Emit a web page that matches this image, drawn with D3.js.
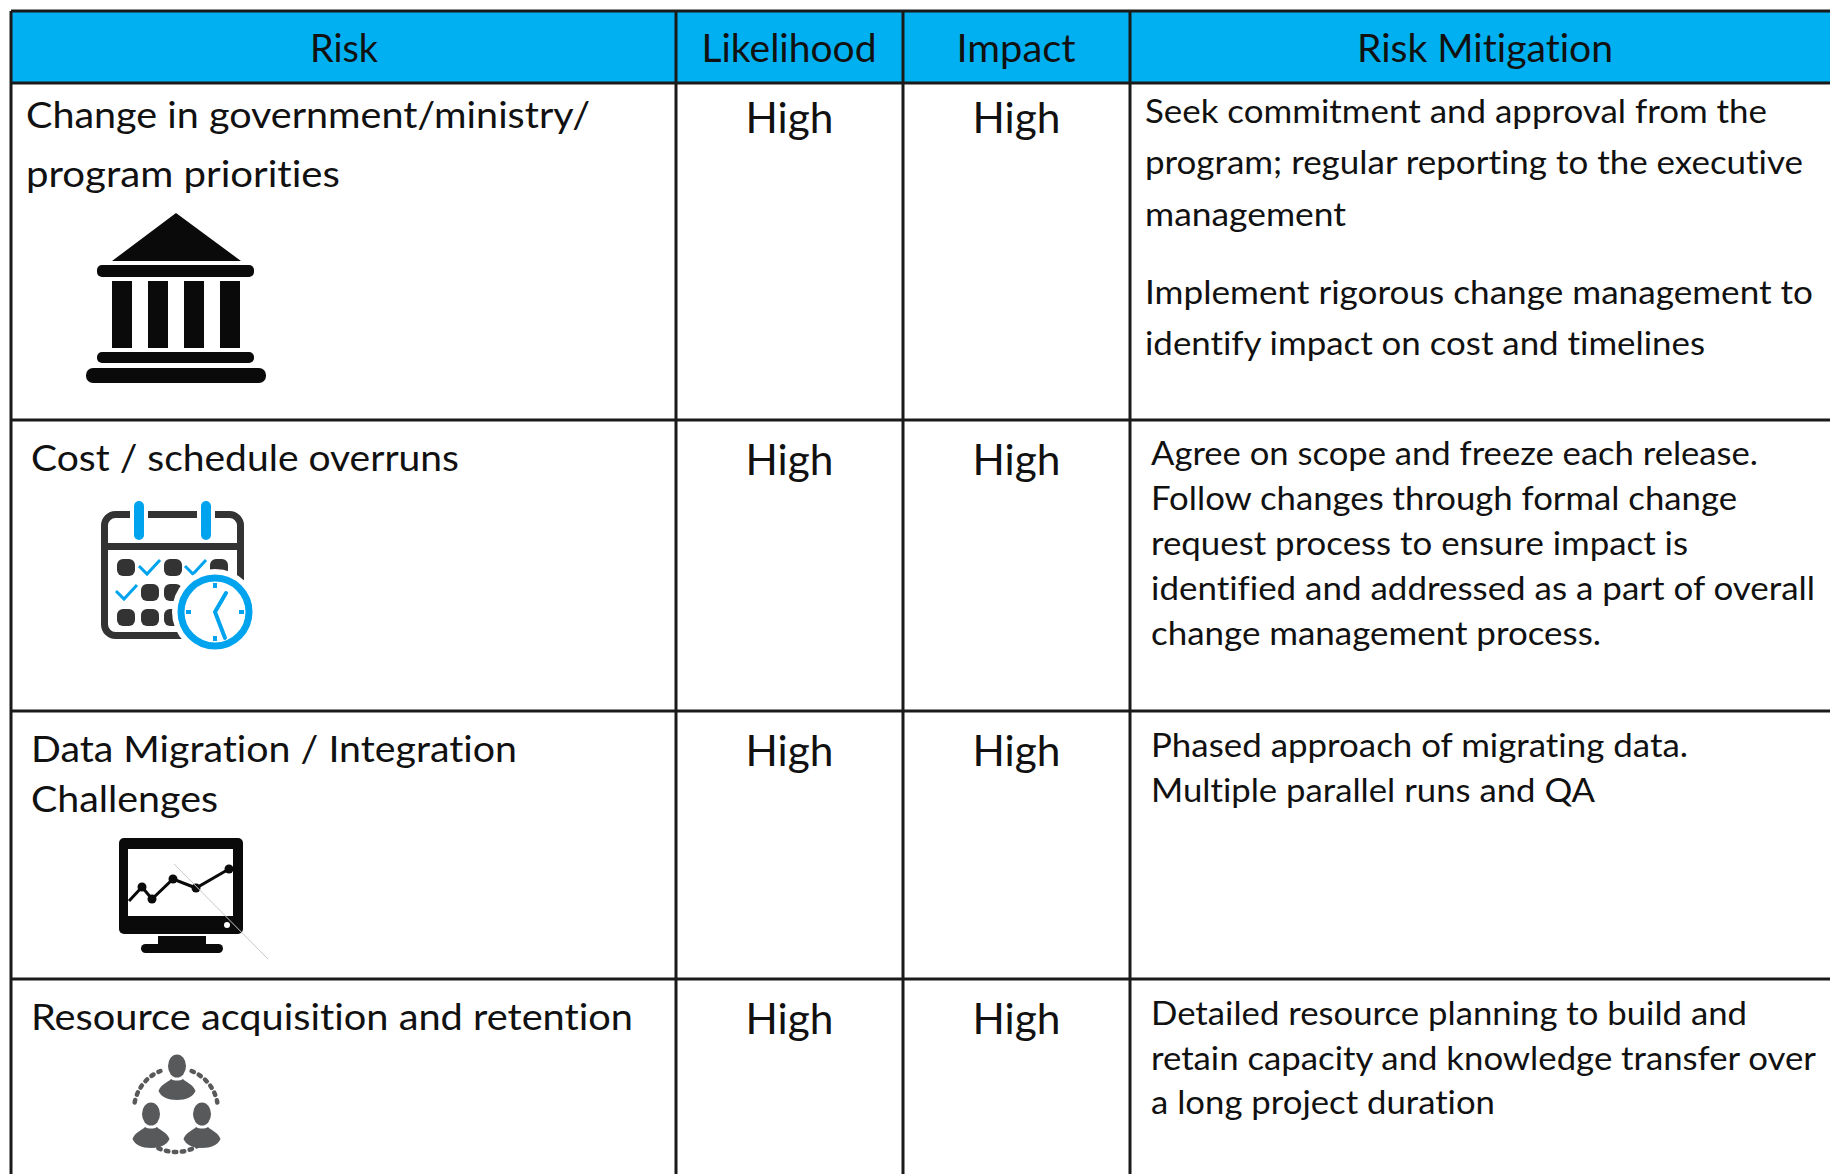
<!DOCTYPE html>
<html lang="en">
    <head>
        <meta charset="utf-8">
        <title>Risk table</title>
        <script src="https://d3js.org/d3.v7.min.js"></script>
        <style type="text/css">
           html, body { margin:0; padding:0; overflow:hidden; background:#fff }
           svg { display:block }
           text { font-family:Lato, "Open Sans", sans-serif; fill:#111; font-variant-ligatures:none }
        </style>
    </head>
    <body>
        <svg></svg>
        <script type="text/javascript">

          // table content
          var headers = ["Risk", "Likelihood", "Impact", "Risk Mitigation"];
          var risks = [
            ["Change in government/ministry/", "program priorities"],
            ["Cost / schedule overruns"],
            ["Data Migration / Integration", "Challenges"],
            ["Resource acquisition and retention"]
          ];
          var likelihood = ["High", "High", "High", "High"];
          var impact = ["High", "High", "High", "High"];
          var mitigation = [
            ["Seek commitment and approval from the", "program; regular reporting to the executive", "management",
             "Implement rigorous change management to", "identify impact on cost and timelines"],
            ["Agree on scope and freeze each release.", "Follow changes through formal change",
             "request process to ensure impact is", "identified and addressed as a part of overall",
             "change management process."],
            ["Phased approach of migrating data.", "Multiple parallel runs and QA"],
            ["Detailed resource planning to build and", "retain capacity and knowledge transfer over",
             "a long project duration"]
          ];

          // layout
          var width = 1830, height = 1174;
          var colEdges = [11, 676, 903, 1130, 1830];
          var rowEdges = [11, 83, 420, 711, 979, 1174];
          var headerX = [344, 789, 1016, 1485];
          var headerBase = 62, headerWidths = [68, 175, 119, 256];
          var riskX = [26, 31, 31, 31];
          var riskBase = [[128, 187], [471], [762, 812], [1030]];
          var riskWidths = [[564, 314], [428], [486, 187], [602]];
          var highBase = [133, 475, 766, 1034], highWidth = 88;
          var mitX = [1145, 1151, 1151, 1151];
          var mitBase = [[123, 174, 226, 304, 355], [465, 510, 555, 600, 645], [757, 802], [1025, 1070, 1114]];
          var mitWidths = [[622, 658, 201, 668, 560], [607, 586, 537, 664, 450], [537, 444], [596, 665, 344]];

          var svg = d3.select("svg").attr("width", width).attr("height", height);

          // header band
          svg.append("rect")
             .attr("x", colEdges[0]).attr("y", rowEdges[0])
             .attr("width", width - colEdges[0]).attr("height", rowEdges[1] - rowEdges[0])
             .attr("fill", "#00b0f0");

          // helper for one line of text
          function line(txt, x, y, size, w, anchor) {
            svg.append("text")
               .attr("x", x).attr("y", y)
               .attr("font-size", size)
               .attr("text-anchor", anchor || "start")
               .attr("textLength", w)
               .attr("lengthAdjust", "spacingAndGlyphs")
               .text(txt);
          }

          headers.forEach(function(h, i) {
            line(h, headerX[i], headerBase, 38, headerWidths[i], "middle");
          });

          risks.forEach(function(r, i) {
            r.forEach(function(t, j) { line(t, riskX[i], riskBase[i][j], 37, riskWidths[i][j]); });
            line(likelihood[i], (colEdges[1] + colEdges[2]) / 2, highBase[i], 42, highWidth, "middle");
            line(impact[i], (colEdges[2] + colEdges[3]) / 2, highBase[i], 42, highWidth, "middle");
            mitigation[i].forEach(function(t, j) { line(t, mitX[i], mitBase[i][j], 33, mitWidths[i][j]); });
          });

          // icons
          var black = "#0a0a0a", blue = "#00a3ee", dark = "#333", grey = "#58595b";

          function box(g, x0, y0, x1, y1, r, fill) {
            g.append("rect").attr("x", x0).attr("y", y0).attr("width", x1 - x0).attr("height", y1 - y0)
             .attr("rx", r).attr("fill", fill);
          }

          // bank
          var bank = svg.append("g");
          bank.append("path").attr("d", "M176,213L241,261H112Z").attr("fill", black);
          box(bank, 97, 265, 254, 277, 5, black);
          [112, 148, 184, 220].forEach(function(x) { box(bank, x, 281, x + 20, 348, 0, black); });
          box(bank, 97, 352, 254, 363, 5, black);
          box(bank, 86, 368, 266, 383, 7, black);

          // calendar with clock
          var cal = svg.append("g").attr("transform", "translate(0,1)");
          cal.append("rect").attr("x", 104.5).attr("y", 513.5).attr("width", 136).attr("height", 121).attr("rx", 11)
             .attr("fill", "none").attr("stroke", dark).attr("stroke-width", 7);
          box(cal, 130, 505, 148, 525, 0, "#fff");
          box(cal, 197, 505, 215, 525, 0, "#fff");
          box(cal, 134, 500, 144, 539, 5, blue);
          box(cal, 201, 500, 211, 539, 5, blue);
          box(cal, 104, 542, 241, 549, 0, dark);
          [[117, 558], [164, 558], [210, 558], [141, 583], [164, 583], [117, 608], [141, 608], [164, 608]].forEach(function(p) {
            box(cal, p[0], p[1], p[0] + 18, p[1] + 17, 6, dark);
          });
          ["M139,565L147,573L160,559", "M185,565L193,573L206,559", "M116,590L124,598L137,584"].forEach(function(d) {
            cal.append("path").attr("d", d).attr("fill", "none").attr("stroke", blue).attr("stroke-width", 3);
          });
          cal.append("circle").attr("cx", 215).attr("cy", 611).attr("r", 43).attr("fill", "#fff");
          cal.append("circle").attr("cx", 215).attr("cy", 611).attr("r", 34).attr("fill", "#fff")
             .attr("stroke", blue).attr("stroke-width", 7);
          cal.append("path").attr("d", "M226,592L215,611L225,637").attr("fill", "none")
             .attr("stroke", blue).attr("stroke-width", 4).attr("stroke-linecap", "round");
          ["M215,582v5", "M215,635v5", "M186,611h5", "M239,611h5"].forEach(function(d) {
            cal.append("path").attr("d", d).attr("stroke", blue).attr("stroke-width", 4);
          });

          // monitor with line chart
          var mon = svg.append("g").attr("transform", "translate(0,1)");
          box(mon, 119, 837, 243, 933, 5, black);
          box(mon, 128, 848, 233, 915, 0, "#fff");
          mon.append("circle").attr("cx", 227).attr("cy", 924).attr("r", 3).attr("fill", "#fff");
          box(mon, 158, 935, 206, 945, 0, black);
          box(mon, 141, 943, 223, 952, 4.5, black);
          var trend = [[129, 900], [142, 886], [152, 898], [173, 878], [196, 887], [229, 868]];
          mon.append("path").attr("d", d3.line()(trend)).attr("fill", "none")
             .attr("stroke", black).attr("stroke-width", 3);
          mon.selectAll("circle.pt").data(trend.slice(1)).enter().append("circle")
             .attr("class", "pt")
             .attr("cx", function(d) { return d[0]; }).attr("cy", function(d) { return d[1]; })
             .attr("r", 4.5).attr("fill", black);
          mon.append("path").attr("d", "M174,863L268,958").attr("stroke", "#c9c9c9").attr("stroke-width", 1);

          // people in a dotted ring
          var ppl = svg.append("g").attr("transform", "translate(176,1110)");
          [[-2.96, -1.95], [-1.19, -0.18], [0.8, 2.34]].forEach(function(a) {
            var p = d3.path();
            p.arc(0, 0, 42, a[0], a[1]);
            ppl.append("path").attr("d", p.toString()).attr("fill", "none").attr("stroke", grey)
               .attr("stroke-width", 4.5).attr("stroke-linecap", "round").attr("stroke-dasharray", "2.5 5.5");
          });
          [[1, -43], [-25, 5], [26, 5]].forEach(function(p) {
            var g = ppl.append("g").attr("transform", "translate(" + p[0] + "," + p[1] + ")");
            g.append("ellipse").attr("cx", 0).attr("cy", -1).attr("rx", 9).attr("ry", 11.5).attr("fill", grey);
            g.append("path").attr("d", "M-18.5,24C-16,17 -10,16 -6,12C-3,14 3,14 6,12C10,16 16,17 18.5,24C16,30 9,33 0,33C-9,33 -16,30 -18.5,24Z")
             .attr("fill", grey);
          });

          // grid on top of everything
          svg.selectAll("line.h").data(rowEdges.slice(0, 5)).enter().append("line")
             .attr("class", "h")
             .attr("x1", colEdges[0]).attr("x2", width)
             .attr("y1", function(d) { return d; }).attr("y2", function(d) { return d; })
             .attr("stroke", "#1a1a1a").attr("stroke-width", 3);
          svg.selectAll("line.v").data(colEdges.slice(0, 4)).enter().append("line")
             .attr("class", "v")
             .attr("x1", function(d) { return d; }).attr("x2", function(d) { return d; })
             .attr("y1", rowEdges[0]).attr("y2", height)
             .attr("stroke", "#1a1a1a").attr("stroke-width", 3);

        </script>
    </body>
</html>
